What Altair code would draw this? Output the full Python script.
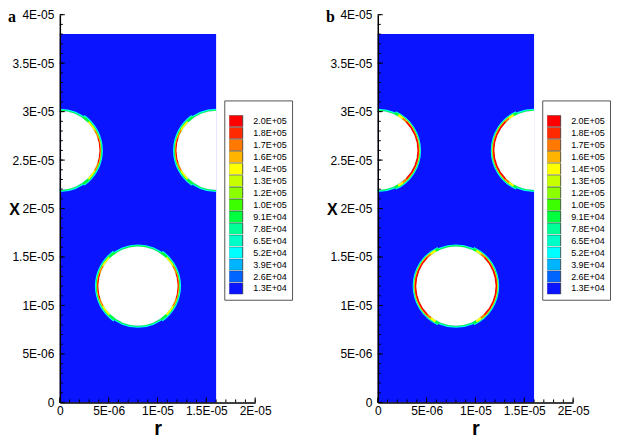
import altair as alt
import pandas as pd

# ---------------- axis ticks ----------------
X_MAJOR = [0.0, 5e-6, 1e-5, 1.5e-5, 2e-5]
Y_MAJOR = [0.0, 5e-6, 1e-5, 1.5e-5, 2e-5, 2.5e-5, 3e-5, 3.5e-5, 4e-5]
X_MINOR = [i * 1e-6 for i in range(21)]
Y_MINOR = [i * 1e-6 for i in range(41)]
R_DOMAIN = [0.0, 2e-5]
X_DOMAIN = [0.0, 4e-5]

# ---------------- solid block (blue field) ----------------
BLOCK_R = [0.0, 1.6e-5]
BLOCK_X = [0.0, 3.8e-5]

# ---------------- holes ----------------
HOLE_R = [0.0, 1.6e-5, 8.0e-6]
HOLE_X = [2.6e-5, 2.6e-5, 1.2e-5]
HOLE_RADIUS = 4.05e-6
HOLE_ARC = [(0, 180), (180, 360), (0, 360)]
HOLE_EDGE_DIR = [[90], [270], [90, 270]]

# ---------------- contour levels ----------------
LEVELS = ["2.0E+05", "1.8E+05", "1.7E+05", "1.6E+05", "1.4E+05", "1.3E+05",
          "1.2E+05", "1.0E+05", "9.1E+04", "7.8E+04", "6.5E+04", "5.2E+04",
          "3.9E+04", "2.6E+04", "1.3E+04"]
LEVEL_COLORS = ["#ff0000", "#ff2a00", "#ff7800", "#ffb400", "#ffff00", "#c8ff00",
                "#8cff00", "#3cff00", "#00ff3c", "#00ff96", "#00ffc8", "#00ffff",
                "#00b4ff", "#0064ff", "#0a14ff"]
FIELD_BLUE = "#0a14ff"

# ---------------- edge bands around the holes (level, half-spread deg, depth) -------
BAND_LEVEL_A = ["5.2E+04", "5.2E+04", "9.1E+04", "9.1E+04", "1.4E+05", "1.7E+05", "2.0E+05"]
BAND_SPREAD_A = [90, 55, 90, 55, 45, 30, 18]
BAND_DEPTH_A = [2.2e-7, 3.6e-7, 1.2e-7, 2.6e-7, 1.9e-7, 1.5e-7, 1.0e-7]
BAND_LEVEL_B = ["5.2E+04", "5.2E+04", "9.1E+04", "9.1E+04", "1.4E+05", "1.7E+05", "2.0E+05"]
BAND_SPREAD_B = [90, 65, 90, 65, 60, 52, 45]
BAND_DEPTH_B = [2.2e-7, 3.8e-7, 1.2e-7, 2.9e-7, 2.4e-7, 2.0e-7, 1.6e-7]

W, H = 196, 389
LABEL_EXPR = "datum.value == 0 ? '0' : replace(upper(format(datum.value, '~e')), 'E-', 'E-0')"
FONT = "Liberation Sans"


def band_table(levels, spreads, depths):
    rows = []
    for lev, sp, dp in zip(levels, spreads, depths):
        for cx, cy, dirs in zip(HOLE_R, HOLE_X, HOLE_EDGE_DIR):
            for d in dirs:
                rows.append(dict(cx=cx, cy=cy, t0=d - sp, t1=d + sp,
                                 r_in=HOLE_RADIUS, r_out=HOLE_RADIUS + dp, level=lev))
    return pd.DataFrame(rows)


def disk_table():
    rows = []
    for cx, cy, (a0, a1) in zip(HOLE_R, HOLE_X, HOLE_ARC):
        rows.append(dict(cx=cx, cy=cy, t0=a0, t1=a1, r_in=0.0, r_out=HOLE_RADIUS))
    return pd.DataFrame(rows)


def panel(letter, levels, spreads, depths):
    xs = alt.Scale(domain=R_DOMAIN, nice=False, zero=False)
    ys = alt.Scale(domain=X_DOMAIN, nice=False, zero=False)
    xaxis = alt.Axis(values=X_MAJOR, labelExpr=LABEL_EXPR, title="r", grid=False,
                     ticks=False, tickSize=0, labelPadding=3, labelFlush=False,
                     labelOverlap=False, labelFont=FONT, labelFontSize=12,
                     labelColor="black", domainColor="black", domainWidth=1.5,
                     titleFont=FONT, titleFontSize=20, titleFontWeight="bold",
                     titleColor="black", titleBaseline="alphabetic", titleY=32,
                     titleX=W / 2, zindex=1)
    yaxis = alt.Axis(values=Y_MAJOR, labelExpr=LABEL_EXPR, title="X", grid=False,
                     ticks=False, tickSize=0, labelPadding=6, labelFlush=False,
                     labelOverlap=False, labelFont=FONT, labelFontSize=12,
                     labelColor="black", domainColor="black", domainWidth=1.5,
                     titleFont=FONT, titleFontSize=16, titleFontWeight="bold",
                     titleColor="black", titleAngle=0, titleAlign="center",
                     titleBaseline="middle", titleX=-46, titleY=195, zindex=1)

    block_df = pd.DataFrame({"r0": [BLOCK_R[0]], "r1": [BLOCK_R[1]],
                             "x0": [BLOCK_X[0]], "x1": [BLOCK_X[1]]})
    block = alt.Chart(block_df).mark_rect(color=FIELD_BLUE).encode(
        x=alt.X("r0:Q", scale=xs, axis=xaxis), x2="r1:Q",
        y=alt.Y("x0:Q", scale=ys, axis=yaxis), y2="x1:Q")

    theta = alt.Theta("t0:Q", scale=alt.Scale(type="linear", domain=[0, 360]), stack=None)
    radius = alt.Radius("r_out:Q", scale=alt.Scale(type="linear", domain=R_DOMAIN,
                                                  range=[0, W], zero=True))
    legend = alt.Legend(orient="none", legendX=165, legendY=86, title=" ",
                        titleFontSize=6, titlePadding=4,
                        symbolType="M-1.2,-1H1.2V1H-1.2Z", symbolSize=136,
                        symbolStrokeColor="#333", symbolStrokeWidth=0.8,
                        symbolOpacity=1, clipHeight=11.4,
                        labelFont=FONT, labelFontSize=9, labelColor="black",
                        labelOffset=11, rowPadding=0, padding=5,
                        strokeColor="#555", fillColor="white")
    bands = alt.Chart(band_table(levels, spreads, depths)).mark_arc(strokeWidth=0).encode(
        x=alt.X("cx:Q", scale=xs, axis=xaxis), y=alt.Y("cy:Q", scale=ys, axis=yaxis),
        theta=theta, theta2="t1:Q", radius=radius, radius2="r_in:Q",
        color=alt.Color("level:N", scale=alt.Scale(domain=LEVELS, range=LEVEL_COLORS),
                        legend=legend))
    disks = alt.Chart(disk_table()).mark_arc(strokeWidth=0, color="white").encode(
        x=alt.X("cx:Q", scale=xs, axis=xaxis), y=alt.Y("cy:Q", scale=ys, axis=yaxis),
        theta=theta, theta2="t1:Q", radius=radius, radius2="r_in:Q")

    def xticks(vals, ln):
        return alt.Chart(pd.DataFrame({"v": vals})).mark_rule(color="black", strokeWidth=1).encode(
            x=alt.X("v:Q", scale=xs, axis=xaxis), y=alt.value(H), y2=alt.value(H - ln))

    def yticks(vals, ln):
        return alt.Chart(pd.DataFrame({"v": vals})).mark_rule(color="black", strokeWidth=1).encode(
            y=alt.Y("v:Q", scale=ys, axis=yaxis), x=alt.value(0), x2=alt.value(ln))

    tag = alt.Chart(pd.DataFrame({"t": [letter]})).mark_text(
        font="Liberation Serif", fontSize=16, fontWeight="bold", color="black",
        align="left", baseline="alphabetic").encode(
        text="t:N", x=alt.value(-52), y=alt.value(7))

    return alt.layer(block, bands, disks, xticks(X_MINOR, 3), xticks(X_MAJOR, 5),
                     yticks(Y_MINOR, 3), yticks(Y_MAJOR, 5), tag).properties(
        width=W, height=H)


chart = alt.hconcat(panel("a", BAND_LEVEL_A, BAND_SPREAD_A, BAND_DEPTH_A),
                    panel("b", BAND_LEVEL_B, BAND_SPREAD_B, BAND_DEPTH_B),
                    spacing=33).resolve_scale(
    color="independent").resolve_legend(color="independent").properties(
    padding=0).configure_view(stroke=None)

chart.save("out.html", embed_options={"renderer": "svg", "actions": False})
